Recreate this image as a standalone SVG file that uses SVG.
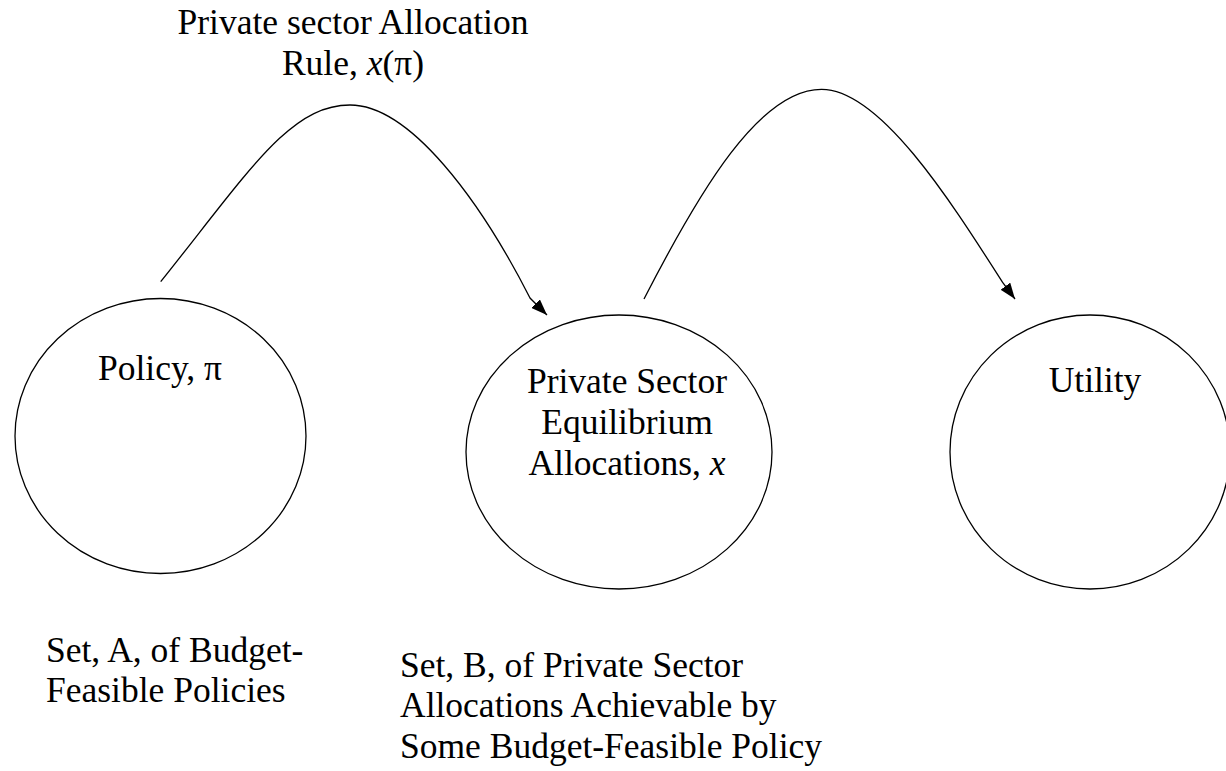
<svg xmlns="http://www.w3.org/2000/svg" width="1226" height="771" viewBox="0 0 1226 771">
  <style>
    .node { fill: none; stroke: #000; stroke-width: 1.3; }
    .edge { fill: none; stroke: #000; stroke-width: 1.3; marker-end: url(#arrow); }
    .lbl { font-family: 'Liberation Serif', 'Times New Roman', Times, 'DejaVu Serif', serif; font-size: 35.5px; fill: #000; }
    .c { text-anchor: middle; }
    .it { font-style: italic; }
  </style>
  <defs>
    <marker id="arrow" markerUnits="userSpaceOnUse" markerWidth="17" markerHeight="12" refX="16" refY="6" orient="auto">
      <path d="M0,0 L16,6 L0,12 Z" fill="#000"/>
    </marker>
  </defs>
  <rect width="1226" height="771" fill="#fff"/>

  <g class="lbl" font-family="Liberation Serif, serif">
    <!-- mapping label above the first arc -->
    <g id="rule-label">
      <text class="c" x="353" y="34">Private sector Allocation</text>
      <text class="c" x="353" y="75">Rule, <tspan class="it">x</tspan>(π)</text>
    </g>

    <!-- connectors -->
    <g id="connectors">
      <path class="edge" d="M160.7,281.7 C250,170 290,105 350,105 C410,105 480,200 530,298 L547,315"/>
      <path class="edge" d="M644,299 C700,190 760,89 821.7,89.3 C880,89.5 950,200 1003,283 L1015,299"/>
    </g>

    <!-- nodes -->
    <g id="policy">
      <ellipse class="node" cx="160.5" cy="436" rx="145.5" ry="137.5"/>
      <text class="c" x="160" y="380">Policy, π</text>
    </g>
    <g id="allocations">
      <ellipse class="node" cx="619" cy="452" rx="153" ry="137"/>
      <text class="c" x="627" y="393">Private Sector</text>
      <text class="c" x="627" y="434">Equilibrium</text>
      <text class="c" x="627" y="475">Allocations, <tspan class="it">x</tspan></text>
    </g>
    <g id="utility">
      <ellipse class="node" cx="1090" cy="452" rx="140" ry="137"/>
      <text class="c" x="1095" y="392">Utility</text>
    </g>

    <!-- set captions -->
    <g id="set-a">
      <text x="46" y="662">Set, A, of Budget-</text>
      <text x="46" y="702">Feasible Policies</text>
    </g>
    <g id="set-b">
      <text x="400" y="677">Set, B, of Private Sector</text>
      <text x="400" y="717">Allocations Achievable by</text>
      <text x="400" y="758">Some Budget-Feasible Policy</text>
    </g>
  </g>
</svg>
